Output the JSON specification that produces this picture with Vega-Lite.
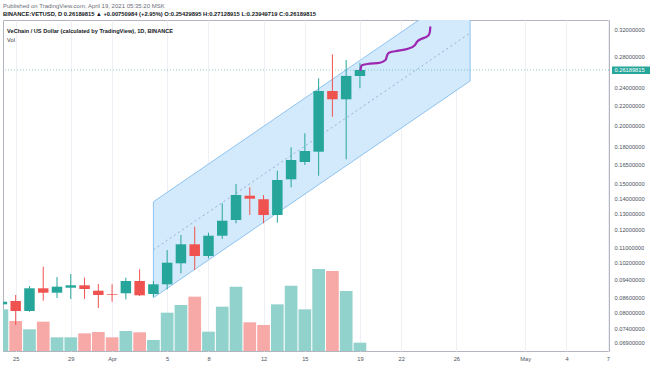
{
  "$schema": "https://vega.github.io/schema/vega-lite/v6.json",
  "width": 606,
  "height": 331,
  "autosize": "none",
  "padding": {"left": 3, "top": 20, "right": 45, "bottom": 15},
  "background": "white",
  "config": {"view": {"stroke": "#b2b5be", "strokeWidth": 1}, "font": "Liberation Sans"},
  "title": {
    "text": "Published on TradingView.com, April 19, 2021 05:35:20 MSK",
    "subtitle": "BINANCE:VETUSD, D  0.26189815 ▲ +0.00750984 (+2.95%) O:0.25429895 H:0.27128915 L:0.23949719 C:0.26189815",
    "anchor": "start",
    "frame": "group",
    "font": "Liberation Sans",
    "fontSize": 6,
    "fontWeight": "normal",
    "color": "#6a6d78",
    "subtitleFont": "Liberation Sans",
    "subtitleFontSize": 5.8,
    "subtitleFontWeight": "bold",
    "subtitleColor": "#131722",
    "offset": 3,
    "subtitlePadding": 2.5
  },
  "datasets": {
    "ohlc": [
      {"date": "2021-03-24", "open": 0.08326, "high": 0.08503, "low": 0.08258, "close": 0.08433, "volume": 1042},
      {"date": "2021-03-25", "open": 0.08462, "high": 0.08715, "low": 0.07525, "close": 0.08058, "volume": 750},
      {"date": "2021-03-26", "open": 0.08058, "high": 0.09107, "low": 0.08031, "close": 0.09005, "volume": 542},
      {"date": "2021-03-27", "open": 0.09005, "high": 0.10009, "low": 0.08475, "close": 0.08813, "volume": 733},
      {"date": "2021-03-28", "open": 0.08813, "high": 0.09516, "low": 0.08588, "close": 0.09076, "volume": 342},
      {"date": "2021-03-29", "open": 0.09031, "high": 0.09657, "low": 0.08546, "close": 0.09138, "volume": 342},
      {"date": "2021-03-30", "open": 0.09138, "high": 0.09484, "low": 0.08546, "close": 0.08974, "volume": 442},
      {"date": "2021-03-31", "open": 0.08900, "high": 0.09197, "low": 0.08178, "close": 0.08715, "volume": 475},
      {"date": "2021-04-01", "open": 0.08745, "high": 0.09184, "low": 0.08433, "close": 0.08715, "volume": 342},
      {"date": "2021-04-02", "open": 0.08788, "high": 0.09484, "low": 0.08533, "close": 0.09332, "volume": 500},
      {"date": "2021-04-03", "open": 0.09332, "high": 0.09881, "low": 0.08672, "close": 0.08702, "volume": 467},
      {"date": "2021-04-04", "open": 0.08758, "high": 0.09332, "low": 0.08643, "close": 0.09183, "volume": 275},
      {"date": "2021-04-05", "open": 0.09183, "high": 0.10860, "low": 0.08960, "close": 0.10206, "volume": 958},
      {"date": "2021-04-06", "open": 0.10176, "high": 0.11687, "low": 0.09690, "close": 0.11167, "volume": 1150},
      {"date": "2021-04-07", "open": 0.11167, "high": 0.12171, "low": 0.09848, "close": 0.10546, "volume": 1358},
      {"date": "2021-04-08", "open": 0.10546, "high": 0.11818, "low": 0.10428, "close": 0.11646, "volume": 483},
      {"date": "2021-04-09", "open": 0.11646, "high": 0.13646, "low": 0.11460, "close": 0.12533, "volume": 1108},
      {"date": "2021-04-10", "open": 0.12575, "high": 0.14997, "low": 0.12374, "close": 0.14211, "volume": 1608},
      {"date": "2021-04-11", "open": 0.14162, "high": 0.14756, "low": 0.12887, "close": 0.13956, "volume": 717},
      {"date": "2021-04-12", "open": 0.13915, "high": 0.14211, "low": 0.12374, "close": 0.12887, "volume": 650},
      {"date": "2021-04-13", "open": 0.12887, "high": 0.16004, "low": 0.12411, "close": 0.15292, "volume": 1167},
      {"date": "2021-04-14", "open": 0.15344, "high": 0.17944, "low": 0.14756, "close": 0.16863, "volume": 1633},
      {"date": "2021-04-15", "open": 0.16699, "high": 0.19216, "low": 0.16457, "close": 0.17622, "volume": 1042},
      {"date": "2021-04-16", "open": 0.17562, "high": 0.25145, "low": 0.15617, "close": 0.23630, "volume": 2050},
      {"date": "2021-04-17", "open": 0.23630, "high": 0.28276, "low": 0.20839, "close": 0.22691, "volume": 2000},
      {"date": "2021-04-18", "open": 0.22691, "high": 0.27499, "low": 0.16921, "close": 0.25439, "volume": 1500},
      {"date": "2021-04-19", "open": 0.25429895, "high": 0.27128915, "low": 0.23949719, "close": 0.26189815, "volume": 208}
    ],
    "channel": [
      {"date": "2021-04-04", "lower": 0.0860, "mid": 0.10874, "upper": 0.1375},
      {"date": "2021-04-27", "lower": 0.2482, "mid": 0.31383, "upper": 0.3968}
    ],
    "brush": [
      {"t": "2021-04-19T00:58:00Z", "p": 0.2619},
      {"t": "2021-04-19T02:42:00Z", "p": 0.26769},
      {"t": "2021-04-19T13:09:00Z", "p": 0.26968},
      {"t": "2021-04-20T10:57:00Z", "p": 0.27138},
      {"t": "2021-04-20T20:32:00Z", "p": 0.27499},
      {"t": "2021-04-21T00:01:00Z", "p": 0.28248},
      {"t": "2021-04-21T03:30:00Z", "p": 0.28527},
      {"t": "2021-04-21T13:05:00Z", "p": 0.28707},
      {"t": "2021-04-22T11:44:00Z", "p": 0.29048},
      {"t": "2021-04-22T23:05:00Z", "p": 0.29519},
      {"t": "2021-04-23T04:19:00Z", "p": 0.30146},
      {"t": "2021-04-23T11:38:00Z", "p": 0.30503},
      {"t": "2021-04-23T23:08:00Z", "p": 0.30999},
      {"t": "2021-04-24T01:45:00Z", "p": 0.31503},
      {"t": "2021-04-24T02:37:00Z", "p": 0.32267}
    ]
  },
  "layer": [
    {
      "data": {"name": "ohlc"},
      "mark": {"type": "bar", "size": 12.7, "clip": true},
      "encoding": {
        "x": {
          "field": "date", "type": "temporal",
          "scale": {"type": "utc", "nice": false, "padding": 0, "domain": [
            {"year": 2021, "month": 3, "date": 24, "hours": 1, "minutes": 52, "utc": true},
            {"year": 2021, "month": 5, "date": 7, "hours": 2, "minutes": 5, "utc": true}
          ]},
          "axis": {
            "title": null,
            "values": [
              {"year": 2021, "month": 3, "date": 25, "utc": true},
              {"year": 2021, "month": 3, "date": 29, "utc": true},
              {"year": 2021, "month": 4, "date": 1, "utc": true},
              {"year": 2021, "month": 4, "date": 5, "utc": true},
              {"year": 2021, "month": 4, "date": 8, "utc": true},
              {"year": 2021, "month": 4, "date": 12, "utc": true},
              {"year": 2021, "month": 4, "date": 15, "utc": true},
              {"year": 2021, "month": 4, "date": 19, "utc": true},
              {"year": 2021, "month": 4, "date": 22, "utc": true},
              {"year": 2021, "month": 4, "date": 26, "utc": true},
              {"year": 2021, "month": 5, "date": 1, "utc": true},
              {"year": 2021, "month": 5, "date": 4, "utc": true},
              {"year": 2021, "month": 5, "date": 7, "utc": true}
            ],
            "labelExpr": "utcdate(datum.value) == 1 ? utcFormat(datum.value, '%b') : utcFormat(datum.value, '%-d')",
            "ticks": false,
            "domain": false,
            "labelFont": "Liberation Sans",
            "labelFontSize": 5.7,
            "labelColor": "#4c525e",
            "labelPadding": 4,
            "gridColor": "#eef0f5",
            "labelFlush": false,
            "labelOverlap": false
          }
        },
        "y": {"field": "volume", "type": "quantitative", "scale": {"domain": [0, 8275], "nice": false, "zero": true}, "axis": null},
        "color": {"condition": {"test": "datum.close >= datum.open", "value": "#92d2cc"}, "value": "#f7a9a7"}
      }
    },
    {
      "layer": [
        {
          "data": {"name": "channel"},
          "mark": {"type": "area", "clip": true, "color": "#d3e9fc", "opacity": 1},
          "encoding": {
            "x": {"field": "date", "type": "temporal", "scale": {"type": "utc"}},
            "y": {
              "field": "lower", "type": "quantitative",
              "scale": {"type": "log", "domain": [0.066272, 0.3344], "nice": false, "zero": false},
              "axis": {
                "orient": "right",
                "title": null,
                "values": [0.32, 0.28, 0.24, 0.22, 0.2, 0.18, 0.165, 0.15, 0.14, 0.13, 0.12, 0.11, 0.102, 0.094, 0.086, 0.08, 0.074, 0.069],
                "format": ".8f",
                "ticks": false,
                "domain": false,
                "labelFont": "Liberation Sans",
                "labelFontSize": 5.7,
                "labelColor": "#4c525e",
                "labelPadding": 5,
                "gridColor": "#eef0f5",
                "labelOverlap": false,
                "labelBound": false
              }
            },
            "y2": {"field": "upper"}
          }
        },
        {
          "data": {"name": "channel"},
          "mark": {"type": "line", "clip": true, "color": "#8ec3f0", "strokeWidth": 1},
          "encoding": {
            "x": {"field": "date", "type": "temporal", "scale": {"type": "utc"}},
            "y": {"field": "upper", "type": "quantitative", "axis": {"title": null}}
          }
        },
        {
          "data": {"name": "channel"},
          "mark": {"type": "line", "clip": true, "color": "#8ec3f0", "strokeWidth": 1},
          "encoding": {
            "x": {"field": "date", "type": "temporal", "scale": {"type": "utc"}},
            "y": {"field": "lower", "type": "quantitative", "axis": {"title": null}}
          }
        },
        {
          "data": {"name": "channel"},
          "mark": {"type": "line", "clip": true, "color": "#90b4d8", "strokeWidth": 1, "strokeDash": [2, 3]},
          "encoding": {
            "x": {"field": "date", "type": "temporal", "scale": {"type": "utc"}},
            "y": {"field": "mid", "type": "quantitative", "axis": {"title": null}}
          }
        },
        {
          "data": {"name": "channel"},
          "mark": {"type": "rule", "clip": true, "color": "#8ec3f0", "strokeWidth": 1},
          "encoding": {
            "x": {"field": "date", "type": "temporal", "scale": {"type": "utc"}},
            "y": {"field": "lower", "type": "quantitative", "axis": {"title": null}},
            "y2": {"field": "upper"}
          }
        },
        {
          "data": {"values": [{}]},
          "mark": {"type": "rule", "color": "#26a69a", "strokeWidth": 1, "strokeDash": [1, 2], "opacity": 0.5},
          "encoding": {
            "y": {"datum": 0.26189815, "type": "quantitative", "axis": {"title": null}}
          }
        },
        {
          "data": {"name": "ohlc"},
          "mark": {"type": "rule", "clip": true, "strokeWidth": 1},
          "encoding": {
            "x": {"field": "date", "type": "temporal", "scale": {"type": "utc"}},
            "y": {"field": "low", "type": "quantitative", "axis": {"title": null}},
            "y2": {"field": "high"},
            "color": {"condition": {"test": "datum.close >= datum.open", "value": "#26a69a"}, "value": "#ef5350"}
          }
        },
        {
          "data": {"name": "ohlc"},
          "mark": {"type": "bar", "size": 10.5, "clip": true},
          "encoding": {
            "x": {"field": "date", "type": "temporal", "scale": {"type": "utc"}},
            "y": {"field": "open", "type": "quantitative", "axis": {"title": null}},
            "y2": {"field": "close"},
            "color": {"condition": {"test": "datum.close >= datum.open", "value": "#26a69a"}, "value": "#ef5350"}
          }
        },
        {
          "data": {"name": "brush"},
          "mark": {"type": "line", "color": "#9c27b0", "strokeWidth": 2.2, "interpolate": "monotone", "strokeCap": "round"},
          "encoding": {
            "x": {"field": "t", "type": "temporal", "scale": {"type": "utc"}},
            "y": {"field": "p", "type": "quantitative", "axis": {"title": null}}
          }
        },
        {
          "data": {"values": [{}]},
          "mark": {"type": "text", "text": "VeChain / US Dollar (calculated by TradingView), 1D, BINANCE", "align": "left", "baseline": "middle", "fontSize": 5.6, "fontWeight": "bold", "color": "#131722", "font": "Liberation Sans"},
          "encoding": {
            "x": {"datum": {"year": 2021, "month": 3, "date": 24, "hours": 9, "utc": true}, "type": "temporal", "scale": {"type": "utc"}},
            "y": {"datum": 0.3169, "type": "quantitative", "axis": {"title": null}}
          }
        },
        {
          "data": {"values": [{}]},
          "mark": {"type": "text", "text": "Vol", "align": "left", "baseline": "middle", "fontSize": 5.6, "color": "#333", "font": "Liberation Sans"},
          "encoding": {
            "x": {"datum": {"year": 2021, "month": 3, "date": 24, "hours": 9, "utc": true}, "type": "temporal", "scale": {"type": "utc"}},
            "y": {"datum": 0.30324, "type": "quantitative", "axis": {"title": null}}
          }
        },
        {
          "data": {"values": [{}]},
          "mark": {"type": "rect", "color": "#26a69a"},
          "encoding": {
            "x": {"datum": {"year": 2021, "month": 5, "date": 7, "hours": 7, "minutes": 18, "utc": true}, "type": "temporal", "scale": {"type": "utc"}},
            "x2": {"datum": {"year": 2021, "month": 5, "date": 10, "hours": 1, "minutes": 32, "utc": true}},
            "y": {"datum": 0.26639, "type": "quantitative", "axis": {"title": null}},
            "y2": {"datum": 0.25679}
          }
        },
        {
          "data": {"values": [{}]},
          "mark": {"type": "text", "text": "0.26189815", "align": "left", "baseline": "middle", "fontSize": 5.7, "color": "white", "font": "Liberation Sans"},
          "encoding": {
            "x": {"datum": {"year": 2021, "month": 5, "date": 7, "hours": 11, "minutes": 40, "utc": true}, "type": "temporal", "scale": {"type": "utc"}},
            "y": {"datum": 0.26189815, "type": "quantitative", "axis": {"title": null}}
          }
        }
      ]
    }
  ],
  "resolve": {"scale": {"y": "independent"}}
}
